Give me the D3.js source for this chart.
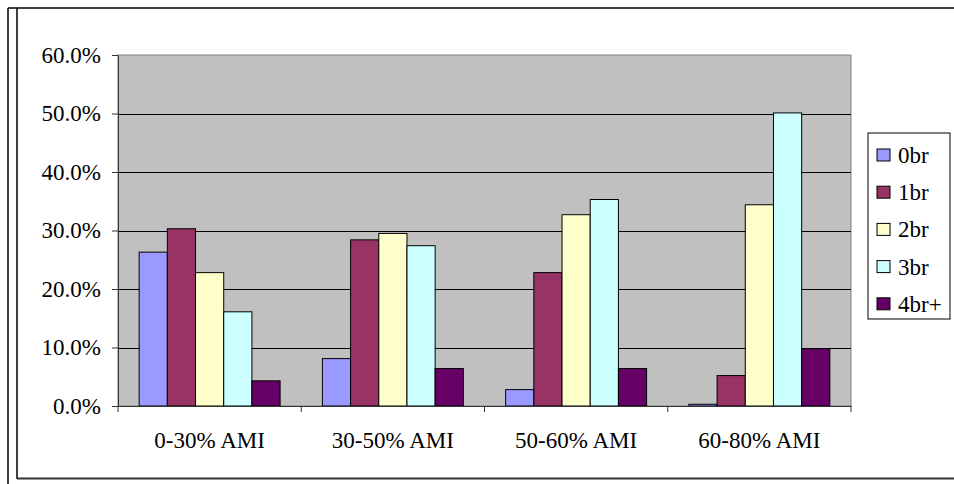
<!DOCTYPE html>
<html>
<head>
<meta charset="utf-8">
<script src="https://cdn.jsdelivr.net/npm/d3@7"></script>
<style>
  body { margin: 0; background: #fff; }
</style>
</head>
<body>
<svg id="chart" width="954" height="484"></svg>
<script>
var categories = ["0-30% AMI", "30-50% AMI", "50-60% AMI", "60-80% AMI"];
var seriesNames = ["0br", "1br", "2br", "3br", "4br+"];
var seriesColors = ["#9999FF", "#993366", "#FFFFCC", "#CCFFFF", "#660066"];
// share of units per bedroom size, by income band
var br0 = [0.263, 0.081, 0.028, 0.003];
var br1 = [0.303, 0.284, 0.228, 0.052];
var br2 = [0.228, 0.295, 0.327, 0.344];
var br3 = [0.161, 0.274, 0.353, 0.501];
var br4 = [0.043, 0.064, 0.064, 0.098];
var yTicks = [0, 0.1, 0.2, 0.3, 0.4, 0.5, 0.6];

var seriesValues = [br0, br1, br2, br3, br4];
var font = "'Liberation Serif', 'Times New Roman', serif";

var svg = d3.select("#chart");
var plot = {left: 118, right: 851, top: 55, bottom: 406};

// outer frame
svg.append("line").attr("x1", 8).attr("y1", 8).attr("x2", 954).attr("y2", 8)
  .attr("stroke", "#000").attr("stroke-width", 1.5);
svg.append("line").attr("x1", 8).attr("y1", 8).attr("x2", 8).attr("y2", 484)
  .attr("stroke", "#000").attr("stroke-width", 1.5);
svg.append("line").attr("x1", 17).attr("y1", 8).attr("x2", 17).attr("y2", 479)
  .attr("stroke", "#000").attr("stroke-width", 1.5);
svg.append("line").attr("x1", 17).attr("y1", 478.5).attr("x2", 954).attr("y2", 478.5)
  .attr("stroke", "#333").attr("stroke-width", 2);

var x0 = d3.scaleBand().domain(categories).range([plot.left, plot.right]).padding(0);
var x1 = d3.scaleBand().domain(seriesNames).range([0, x0.bandwidth()])
  .paddingInner(0).paddingOuter(0.75);
var y = d3.scaleLinear().domain([0, 0.6]).range([plot.bottom, plot.top]);

// plot area
svg.append("rect")
  .attr("x", plot.left).attr("y", plot.top)
  .attr("width", plot.right - plot.left).attr("height", plot.bottom - plot.top)
  .attr("fill", "#C0C0C0").attr("stroke", "#808080").attr("stroke-width", 1);

// gridlines
svg.append("g").selectAll("line")
  .data(yTicks.filter(function(d) { return d > 0 && d < 0.6; }))
  .enter().append("line")
    .attr("x1", plot.left).attr("x2", plot.right)
    .attr("y1", function(d) { return Math.round(y(d)) + 0.5; })
    .attr("y2", function(d) { return Math.round(y(d)) + 0.5; })
    .attr("stroke", "#000").attr("stroke-width", 1);

// bars
var groups = svg.append("g").selectAll("g")
  .data(seriesNames)
  .enter().append("g")
    .attr("fill", function(d, i) { return seriesColors[i]; });

groups.selectAll("rect")
  .data(function(s, i) {
    return categories.map(function(c, j) { return {cat: c, series: s, value: seriesValues[i][j]}; });
  })
  .enter().append("rect")
    .attr("x", function(d) { return x0(d.cat) + x1(d.series); })
    .attr("y", function(d) { return y(d.value); })
    .attr("width", x1.bandwidth())
    .attr("height", function(d) { return y(0) - y(d.value); })
    .attr("stroke", "#000").attr("stroke-width", 1);

// y axis
var yAxis = svg.append("g")
  .attr("transform", "translate(" + plot.left + ",0)")
  .call(d3.axisLeft(y).tickValues(yTicks).tickFormat(d3.format(".1%")).tickSize(6).tickSizeOuter(0).tickPadding(11));
yAxis.select(".domain").attr("stroke", "#333");
yAxis.selectAll(".tick line").attr("stroke", "#333");
yAxis.selectAll("text").attr("font-size", 23).style("font-family", font).attr("fill", "#000");

// x axis: labels at centres, ticks at category boundaries
var xAxis = svg.append("g")
  .attr("transform", "translate(0," + plot.bottom + ")")
  .call(d3.axisBottom(x0).tickSize(0).tickPadding(26));
xAxis.select(".domain").attr("stroke", "#333");
xAxis.selectAll("text").attr("font-size", 23).style("font-family", font).attr("fill", "#000");

var bounds = categories.map(function(c) { return x0(c); }).concat([plot.right]);
svg.append("g").selectAll("line")
  .data(bounds)
  .enter().append("line")
    .attr("x1", function(d) { return d; }).attr("x2", function(d) { return d; })
    .attr("y1", plot.bottom).attr("y2", plot.bottom + 6)
    .attr("stroke", "#333");

// legend
var legend = svg.append("g").attr("transform", "translate(868,133)");
legend.append("rect")
  .attr("x", 0).attr("y", 0).attr("width", 82).attr("height", 186)
  .attr("fill", "#fff").attr("stroke", "#000").attr("stroke-width", 1);

var items = legend.selectAll("g.item")
  .data(seriesNames)
  .enter().append("g")
    .attr("class", "item")
    .attr("transform", function(d, i) { return "translate(0," + (22 + i * 37.2) + ")"; });

items.append("rect")
  .attr("x", 9).attr("y", -6).attr("width", 13).attr("height", 12)
  .attr("fill", function(d, i) { return seriesColors[i]; })
  .attr("stroke", "#000").attr("stroke-width", 1);

items.append("text")
  .attr("x", 30).attr("y", 0).attr("dy", "0.35em")
  .attr("font-size", 23)
  .style("font-family", font)
  .text(function(d) { return d; });
</script>
</body>
</html>
